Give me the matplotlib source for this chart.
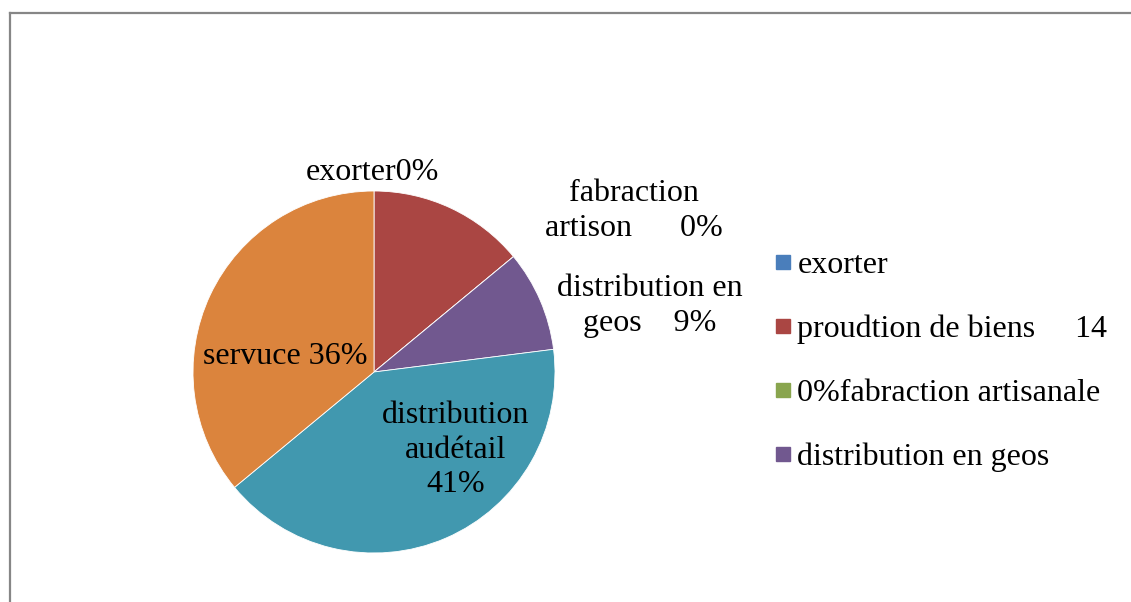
import matplotlib
matplotlib.use("Agg")
import matplotlib.pyplot as plt
from matplotlib.lines import Line2D

plt.rcParams['font.family'] = ['Liberation Serif', 'DejaVu Serif']

# data (percent)
categories = ['exorter', 'proudtion de biens', 'fabraction artisanale',
              'distribution en geos', 'distribution audétail', 'servuce']
values = [0, 14, 0, 9, 41, 36]
colors = ['#4A7EBB', '#AA4643', '#89A54E', '#71588F', '#4198AF', '#DB843D']

# data labels as printed on the original (the 14% label is missing there)
slice_labels = ['exorter0%', None, 'fabraction\nartison      0%',
                'distribution en\ngeos    9%', 'distribution\naudétail\n41%',
                'servuce 36%']
label_pos = [(372, 430), None, (634, 391), (650, 296), (456, 152), (285, 245)]

# legend in the original is truncated to the first four entries
legend_labels = ['exorter', 'proudtion de biens     14',
                 '0%fabraction artisanale', 'distribution en geos']

FS = 23

fig = plt.figure(figsize=(11.31, 6.02), dpi=100)
ax = fig.add_axes([0, 0, 1, 1])

wedges, _ = ax.pie(values, colors=colors, startangle=90, counterclock=False,
                   center=(374, 230), radius=181,
                   wedgeprops=dict(linewidth=0.6, edgecolor='white'))
ax.set_xlim(0, 1131)
ax.set_ylim(0, 602)
ax.axis('off')

for lab, pos in zip(slice_labels, label_pos):
    if lab is None:
        continue
    ax.text(pos[0], pos[1], lab, ha='center', va='center', fontsize=FS,
            linespacing=1.25, color='black')

# chart area border (only top and left visible in the crop)
ax.plot([10, 10], [0, 589], color='#868686', lw=1.6, clip_on=False)
ax.plot([10, 1131], [589, 589], color='#868686', lw=1.6, clip_on=False)

handles = [Line2D([], [], marker='s', linestyle='none', markersize=10,
                  markerfacecolor=c, markeredgecolor=c) for c in colors[:4]]
leg = fig.legend(handles, legend_labels, loc='upper left',
                 bbox_to_anchor=(759 / 1131, 1 - 235 / 602),
                 frameon=False, fontsize=FS, handlelength=0.5,
                 handletextpad=0.2, labelspacing=1.08, borderpad=0)

fig.savefig('out.png', dpi=100)
